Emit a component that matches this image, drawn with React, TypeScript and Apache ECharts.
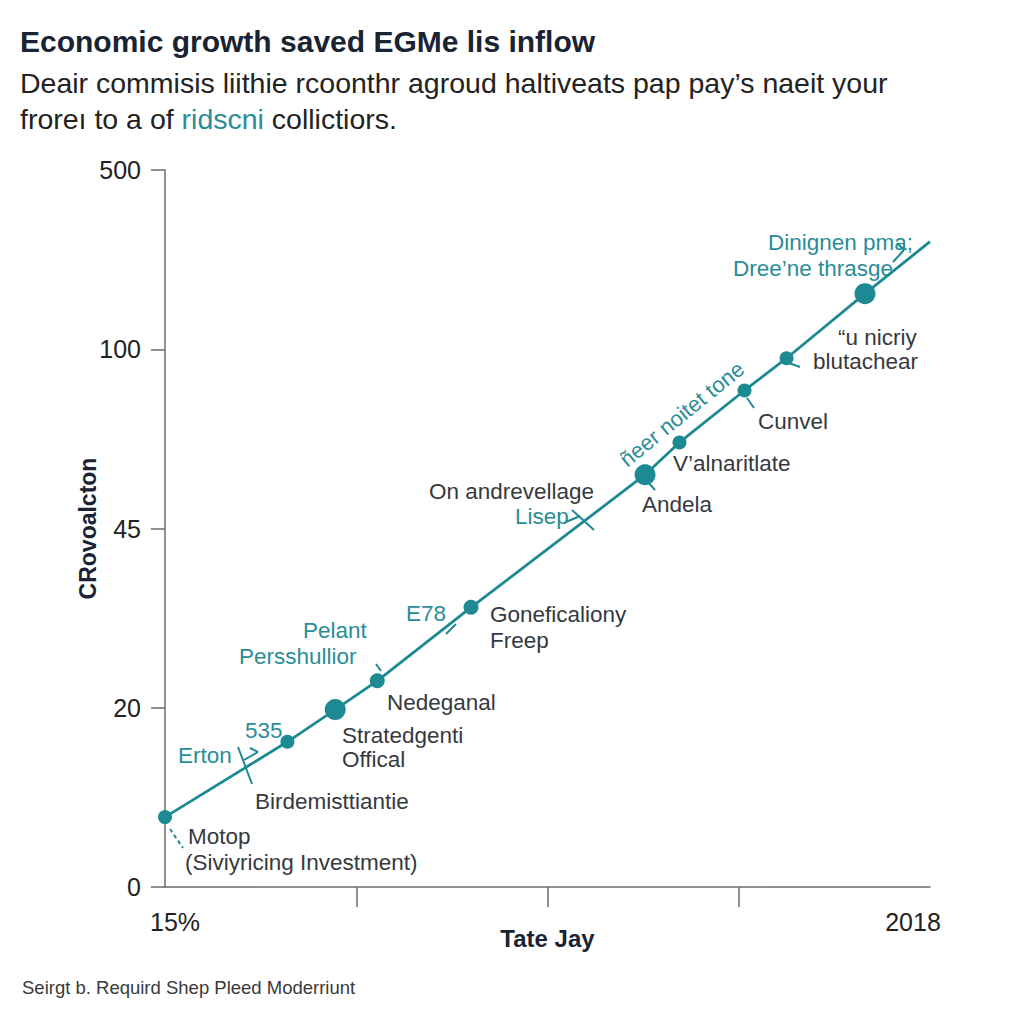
import React, { useEffect, useRef } from "react";
import * as echarts from "echarts";

// Values (axis units: both axes are evenly spaced index scales)
const yTickLabels = ["0", "20", "45", "100", "500"];
const xTickLabels = ["15%", "", "", "", "2018"];
const pointX = [0.0, 0.64, 0.89, 1.11, 1.6, 2.51, 2.69, 3.03, 3.25, 3.66, 4.0];
const pointY = [0.39, 0.81, 0.99, 1.15, 1.56, 2.3, 2.48, 2.77, 2.95, 3.31, 3.6];
const pointSize = [14, 14, 21, 15, 15, 21, 14, 14, 14, 21, 0];

const TEAL = "#1d8a93";
const TEAL_TEXT = "#2a8d97";
const DARK = "#36393e";
const NAVY = "#1a2332";
const FONT = "'Liberation Sans', Arial, sans-serif";

type Ann = { t: string; x: number; y: number; c: string };
const annotations: Ann[] = [
  { t: "Dinignen pma;", x: 768, y: 242, c: TEAL_TEXT },
  { t: "Dree\u2019ne thrasge", x: 733, y: 268, c: TEAL_TEXT },
  { t: "\u201Cu nicriy", x: 838, y: 337, c: DARK },
  { t: "blutachear", x: 813, y: 361, c: DARK },
  { t: "Cunvel", x: 758, y: 421, c: DARK },
  { t: "V\u2019alnaritlate", x: 673, y: 463, c: DARK },
  { t: "Andela", x: 642, y: 504, c: DARK },
  { t: "On andrevellage", x: 429, y: 491, c: DARK },
  { t: "Lisep", x: 515, y: 516, c: TEAL_TEXT },
  { t: "E78", x: 406, y: 613, c: TEAL_TEXT },
  { t: "Goneficaliony", x: 490, y: 614, c: DARK },
  { t: "Freep", x: 490, y: 640, c: DARK },
  { t: "Pelant", x: 303, y: 630, c: TEAL_TEXT },
  { t: "Persshullior", x: 239, y: 656, c: TEAL_TEXT },
  { t: "Nedeganal", x: 387, y: 702, c: DARK },
  { t: "Stratedgenti", x: 342, y: 735, c: DARK },
  { t: "Offical", x: 342, y: 759, c: DARK },
  { t: "535", x: 245, y: 730, c: TEAL_TEXT },
  { t: "Erton", x: 178, y: 755, c: TEAL_TEXT },
  { t: "Birdemisttiantie", x: 255, y: 801, c: DARK },
  { t: "Motop", x: 188, y: 836, c: DARK },
  { t: "(Siviyricing Investment)", x: 185, y: 862, c: DARK },
];

const connectors: number[][] = [
  [238, 747, 252, 784],
  [244, 760, 258, 752],
  [258, 752, 250, 748],
  [376, 664, 381, 671],
  [446, 634, 456, 624],
  [572, 510, 594, 530],
  [566, 522, 580, 516],
  [786, 362, 800, 367],
  [747, 398, 754, 408],
  [647, 481, 655, 490],
  [893, 262, 904, 250],
  [897, 243, 904, 250],
];

export default function App() {
  const ref = useRef<HTMLDivElement>(null);
  useEffect(() => {
    document.body.style.margin = "0";
    if (!ref.current) return;
    const chart = echarts.init(ref.current, undefined, { renderer: "svg" });
    const seriesData = pointX.map((x, i) => ({
      value: [x, pointY[i]],
      symbolSize: pointSize[i],
      symbol: pointSize[i] > 0 ? "circle" : "none",
    }));
    const graphics: any[] = [
      {
        type: "text",
        left: 20,
        top: 26,
        style: { text: "Economic growth saved EGMe lis inflow", font: `bold 30px ${FONT}`, fill: NAVY },
      },
      {
        type: "text",
        left: 20,
        top: 68,
        style: {
          text: "Deair commisis liithie rcoonthr agroud haltiveats pap pay\u2019s naeit your",
          font: `28.5px ${FONT}`,
          fill: "#222222",
        },
      },
      {
        type: "text",
        left: 20,
        top: 104,
        style: {
          text: "{a|frore\u0131 to a of }{b|ridscni}{a| collictiors.}",
          rich: {
            a: { font: `28.5px ${FONT}`, fill: "#222222" },
            b: { font: `28.5px ${FONT}`, fill: TEAL_TEXT },
          },
        },
      },
      {
        type: "text",
        left: 22,
        top: 978,
        style: { text: "Seirgt b. Requird Shep Pleed Moderriunt", font: `18.5px ${FONT}`, fill: "#3a3a3a" },
      },
      {
        type: "text",
        x: 682,
        y: 414,
        rotation: (39 * Math.PI) / 180,
        style: {
          text: "\u00F1eer noitet tone",
          font: `22px ${FONT}`,
          fill: TEAL_TEXT,
          align: "center",
          verticalAlign: "middle",
        },
      },
      ...annotations.map((a) => ({
        type: "text",
        x: a.x,
        y: a.y,
        style: { text: a.t, font: `22.5px ${FONT}`, fill: a.c, verticalAlign: "middle" },
      })),
      ...connectors.map((s) => ({
        type: "line",
        shape: { x1: s[0], y1: s[1], x2: s[2], y2: s[3] },
        style: { stroke: TEAL, lineWidth: 2 },
      })),
      {
        type: "line",
        shape: { x1: 170, y1: 829, x2: 183, y2: 848 },
        style: { stroke: TEAL, lineWidth: 2, lineDash: [4, 3] },
      },
    ];
    chart.setOption({
      animation: false,
      backgroundColor: "#ffffff",
      grid: { left: 165, right: 94, top: 170, bottom: 137 },
      xAxis: [
        { type: "value", min: 0, max: 4, show: false },
        {
          type: "category",
          boundaryGap: false,
          data: xTickLabels,
          position: "bottom",
          axisLine: { lineStyle: { color: "#6b6b6b", width: 1.5 } },
          axisTick: {
            length: 20,
            interval: (i: number) => i > 0 && i < 4,
            lineStyle: { color: "#6b6b6b", width: 1.5 },
          },
          axisLabel: {
            fontSize: 25,
            color: "#222222",
            margin: 22,
            fontFamily: FONT,
            formatter: (v: string, i: number) => (i === 0 ? `{l|${v}}` : i === 4 ? `{r|${v}}` : v),
            rich: {
              l: { fontSize: 25, color: "#222222", fontFamily: FONT, padding: [0, 0, 0, 20] },
              r: { fontSize: 25, color: "#222222", fontFamily: FONT, padding: [0, 34, 0, 0] },
            },
          },
          name: "Tate Jay",
          nameLocation: "middle",
          nameGap: 39,
          nameMoveOverlap: false,
          nameTextStyle: { fontSize: 24, fontWeight: "bold", color: NAVY, fontFamily: FONT },
        },
      ],
      yAxis: {
        type: "value",
        min: 0,
        max: 4,
        interval: 1,
        splitLine: { show: false },
        axisLine: { show: true, lineStyle: { color: "#6b6b6b", width: 1.5 } },
        axisTick: { show: true, length: 14, lineStyle: { color: "#6b6b6b", width: 1.5 } },
        axisLabel: {
          formatter: (v: number) => yTickLabels[Math.round(v)] ?? "",
          fontSize: 25,
          color: "#222222",
          margin: 24,
          fontFamily: FONT,
        },
        name: "CRovoalcton",
        nameLocation: "middle",
        nameRotate: 90,
        nameGap: 66,
        nameMoveOverlap: false,
        nameTextStyle: { fontSize: 23, fontWeight: "bold", color: NAVY, fontFamily: FONT },
      },
      series: [
        {
          type: "line",
          xAxisIndex: 0,
          data: seriesData,
          lineStyle: { color: TEAL, width: 2.8 },
          itemStyle: { color: TEAL },
          z: 3,
        },
      ],
      graphic: graphics,
    });
    return () => chart.dispose();
  }, []);
  return <div ref={ref} style={{ width: 1024, height: 1024 }} />;
}
